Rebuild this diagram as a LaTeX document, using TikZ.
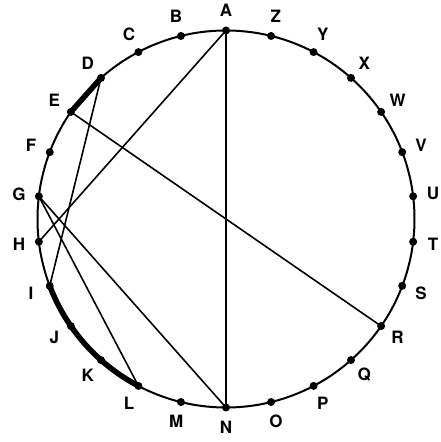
\documentclass[tikz,border=0pt]{standalone}
\usepackage{fontspec}
\setmainfont{TeX Gyre Heros}
\begin{document}
\begin{tikzpicture}[x=1pt,y=1pt,
  dot/.style={circle,fill,inner sep=0pt,minimum size=8pt},
  letter/.style={font=\fontsize{17}{18}\selectfont\bfseries,inner sep=0pt},
  chord/.style={line width=1.6pt}]
\useasboundingbox (-226,-223) rectangle (215,219);
\def\rad{188.5}
\draw[line width=2pt] (0,0) circle (\rad);
% 26 points, A at the top, going round counterclockwise
\foreach \p [count=\i from 0] in {A,B,C,D,E,F,G,H,I,J,K,L,M,N,O,P,Q,R,S,T,U,V,W,X,Y,Z} {
  \node[dot] (\p) at ({90+\i*360/26}:\rad) {};
  \node[letter] (lab\p) at ({90+\i*360/26}:\rad+20) {\p};
}
% chords
\draw[chord] (A.center) -- (N.center);
\draw[chord] (A.center) -- (H.center);
\draw[chord] (D.center) -- (I.center);
\draw[chord] (E.center) -- (R.center);
\draw[chord] (G.center) -- (L.center);
\draw[chord] (G.center) -- (N.center);
% thick pieces
\draw[line width=5.5pt] (D.center) -- (E.center);
\draw[line width=5.5pt] (I.center) arc[start angle=200.769, end angle=242.308, radius=\rad];
\end{tikzpicture}
\end{document}
